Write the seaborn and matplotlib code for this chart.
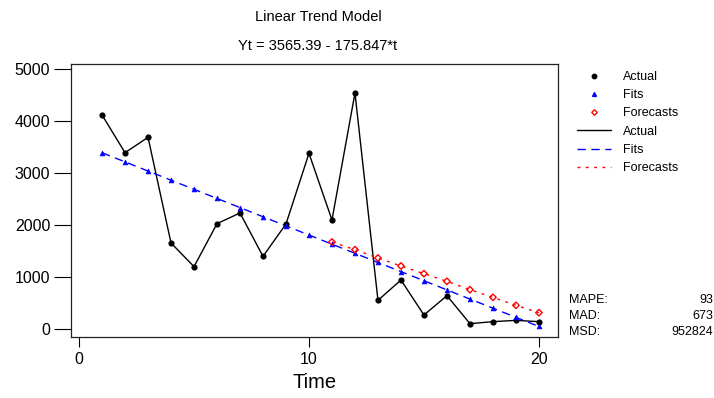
import numpy as np
import pandas as pd
import matplotlib
matplotlib.use("Agg")
import matplotlib.pyplot as plt
from matplotlib.lines import Line2D
import seaborn as sns

# data
t = list(range(1, 21))
actual = [4115, 3390, 3686, 1654, 1199, 2026, 2231, 1397, 2019, 3378,
          2096, 4538, 551, 942, 269, 641, 103, 141, 166, 141]
fits = [3389.5, 3213.7, 3037.9, 2862.0, 2686.2, 2510.3, 2334.5, 2158.6, 1982.8, 1806.9,
        1631.1, 1455.2, 1279.4, 1103.5, 927.7, 751.8, 576.0, 400.1, 224.3, 48.5]
t_fc = list(range(11, 21))
forecasts = [1673, 1526, 1365, 1212, 1064, 917, 756, 609, 455, 314]
stat_names = ["MAPE:", "MAD:", "MSD:"]
stat_values = ["93", "673", "952824"]

df = pd.DataFrame({"t": t, "actual": actual, "fits": fits})
df_fc = pd.DataFrame({"t": t_fc, "forecasts": forecasts})

sns.set_style("white")
plt.rcParams["font.family"] = ["Liberation Sans", "DejaVu Sans"]
plt.rcParams["text.color"] = "black"
plt.rcParams["axes.labelcolor"] = "black"

fig = plt.figure(figsize=(7.14, 3.98), dpi=100)
ax = fig.add_axes([71 / 714, 1 - 337 / 398, (558 - 71) / 714, (337 - 64) / 398])

# lines
sns.lineplot(data=df, x="t", y="actual", ax=ax, color="black", lw=1)
sns.lineplot(data=df, x="t", y="fits", ax=ax, color="blue", lw=1,
             linestyle=(0, (6, 4)))
sns.lineplot(data=df_fc, x="t", y="forecasts", ax=ax, color="red", lw=1,
             linestyle=(0, (2, 4)))
# markers
sns.scatterplot(data=df, x="t", y="actual", ax=ax, color="black", s=20,
                marker="o", edgecolor="black", linewidth=0, zorder=5)
sns.scatterplot(data=df, x="t", y="fits", ax=ax, color="blue", s=12,
                marker="^", edgecolor="blue", linewidth=0.5, zorder=5)
sns.scatterplot(data=df_fc, x="t", y="forecasts", ax=ax, facecolor="none", s=11,
                marker="D", edgecolor="red", linewidth=1, zorder=6)

ax.set_xlim(-0.35, 20.83)
ax.set_ylim(-154, 5096)
ax.set_xticks([0, 10, 20])
ax.set_yticks([0, 1000, 2000, 3000, 4000, 5000])
ax.tick_params(axis="y", length=12, width=0.8, pad=3, labelsize=11.5,
               direction="out", left=True, colors="black")
ax.tick_params(axis="x", length=7, width=0.8, pad=4, labelsize=11.5,
               direction="out", bottom=True, colors="black")
for sp in ax.spines.values():
    sp.set_linewidth(0.9)
    sp.set_color("#222222")
ax.set_xlabel("Time", fontsize=14.5, labelpad=4)
ax.set_ylabel("")

fig.text(318 / 714, 1 - 17 / 398, "Linear Trend Model", ha="center", va="center", fontsize=10.5)
fig.text(318 / 714, 1 - 46 / 398, "Yt = 3565.39 - 175.847*t", ha="center", va="center", fontsize=10.5)

handles = [
    Line2D([], [], ls="none", marker="o", color="black", ms=3.2),
    Line2D([], [], ls="none", marker="^", color="blue", ms=2.8),
    Line2D([], [], ls="none", marker="D", mfc="none", mec="red", ms=2.8),
    Line2D([], [], color="black", lw=1),
    Line2D([], [], color="blue", lw=1, ls=(0, (6, 4))),
    Line2D([], [], color="red", lw=1, ls=(0, (2, 4))),
]
labels = ["Actual", "Fits", "Forecasts", "Actual", "Fits", "Forecasts"]
fig.legend(handles, labels, loc="upper left", bbox_to_anchor=(577 / 714, 1 - 71 / 398),
           frameon=False, fontsize=9, handlelength=2.7, handletextpad=0.95,
           borderpad=0, borderaxespad=0, labelspacing=0.5)

for i, (name, val) in enumerate(zip(stat_names, stat_values)):
    y = 1 - (300 + 16 * i) / 398
    fig.text(569 / 714, y, name, ha="left", va="center", fontsize=9)
    fig.text(713 / 714, y, val, ha="right", va="center", fontsize=9)

fig.savefig("out.png", dpi=100)
